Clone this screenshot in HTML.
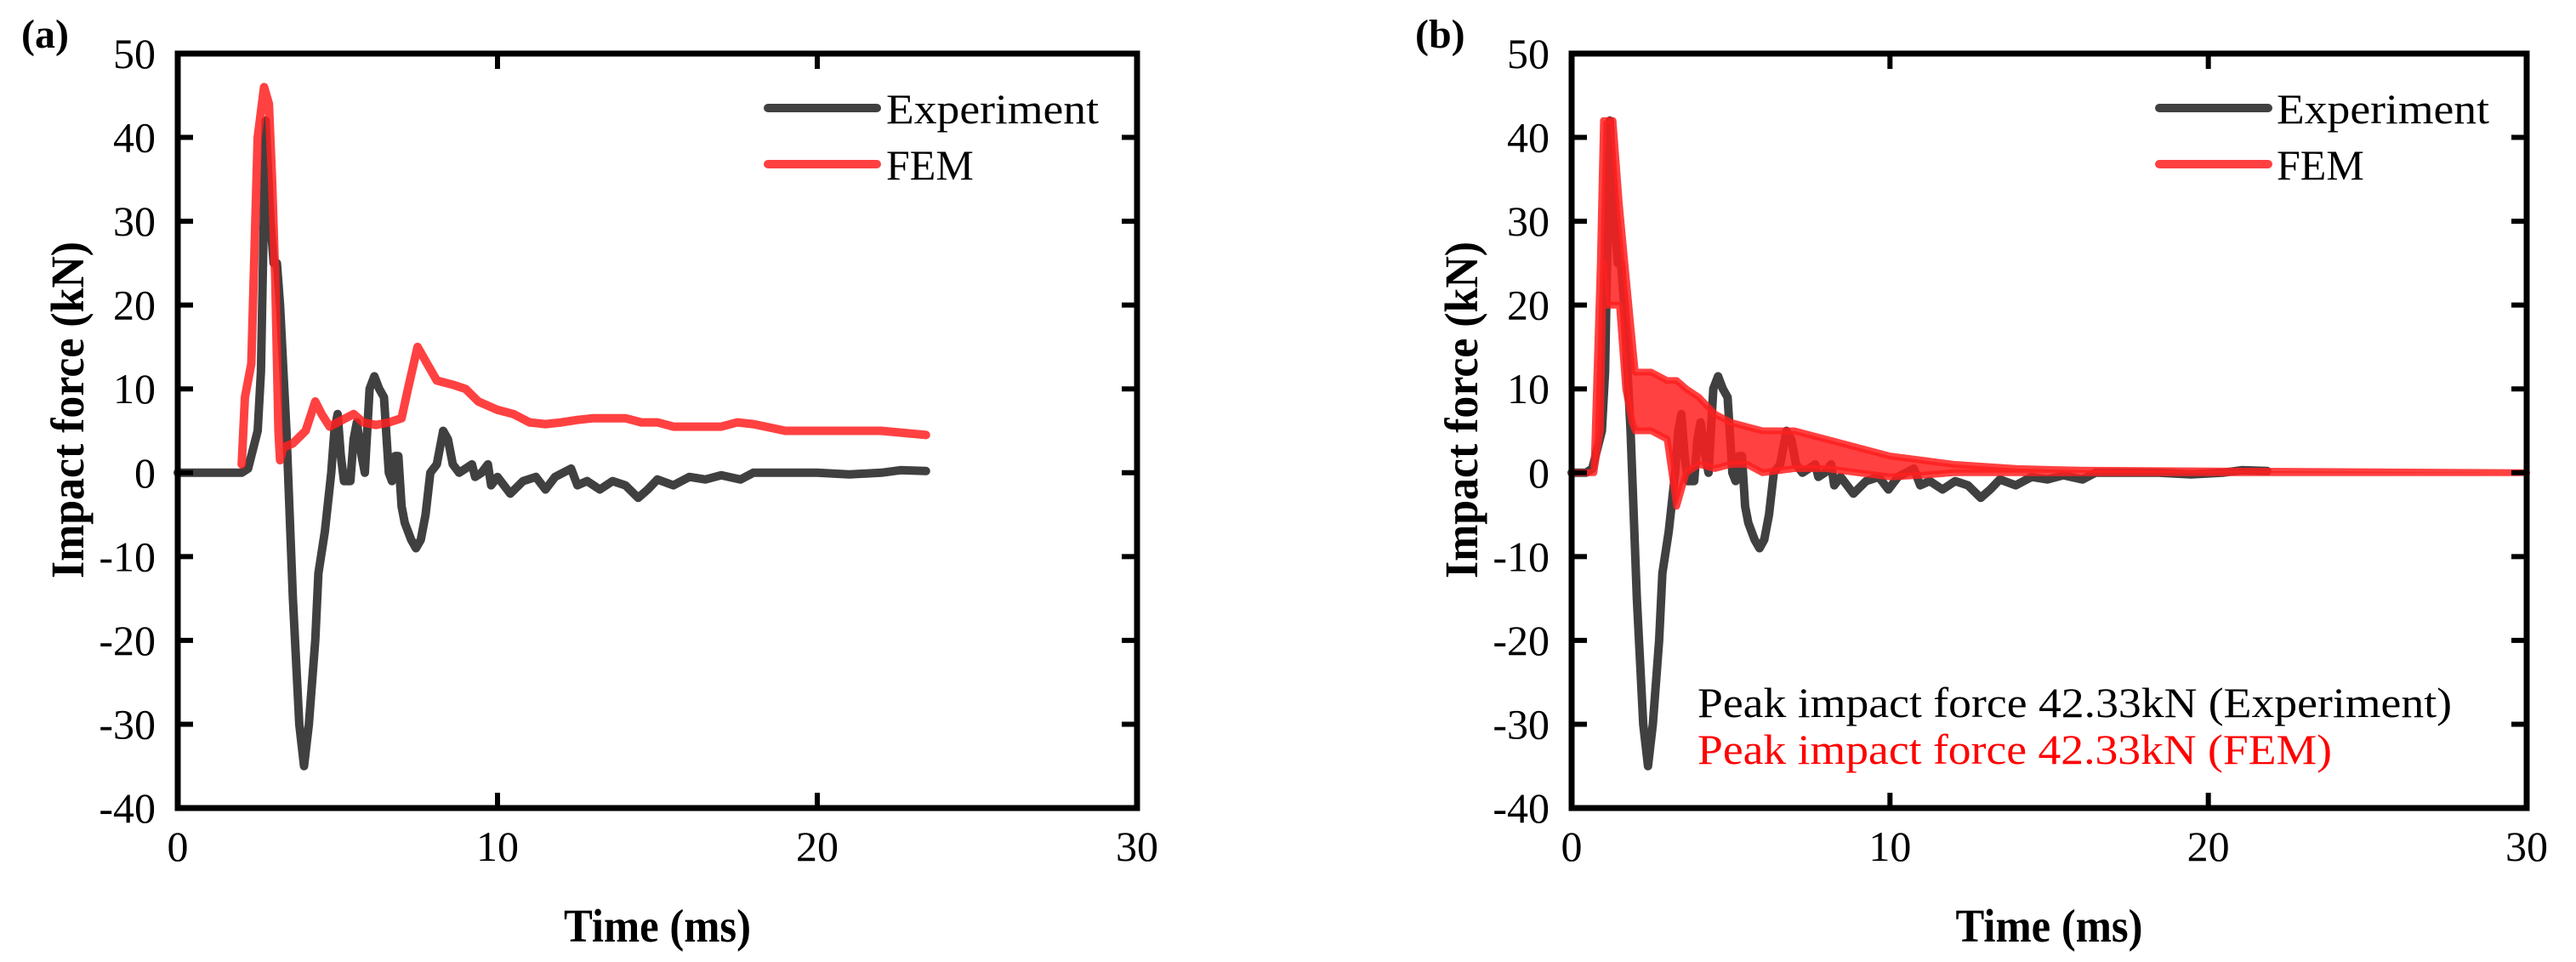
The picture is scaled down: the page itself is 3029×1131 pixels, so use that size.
<!DOCTYPE html>
<html><head><meta charset="utf-8"><style>
html,body{margin:0;padding:0;background:#fff;}
svg{display:block;font-family:"Liberation Serif","Times New Roman",serif;}
</style></head><body>
<svg id="chart" width="3029" height="1131" viewBox="0 0 3029 1131" xmlns="http://www.w3.org/2000/svg">
<rect width="3029" height="1131" fill="#fff"/>
<g id="panelA"></g>
<g id="panelB"></g>
</svg>
<script>
const xTicks = [0, 10, 20, 30];
const yTicks = [50, 40, 30, 20, 10, 0, -10, -20, -30, -40];

const aExpT = [0,2.0,2.2,2.5,2.6,2.75,2.9,3.0,3.1,3.2,3.4,3.6,3.8,3.95,4.1,4.3,4.4,4.6,4.8,4.9,5.0,5.1,5.2,5.4,5.5,5.6,5.75,5.85,6.0,6.15,6.3,6.45,6.6,6.7,6.8,6.9,7.0,7.1,7.3,7.45,7.6,7.75,7.9,8.1,8.3,8.45,8.6,8.8,9.0,9.2,9.3,9.5,9.7,9.8,10,10.4,10.8,11.2,11.5,11.8,12.3,12.5,12.8,13.2,13.6,14,14.4,14.7,15.0,15.5,16,16.5,17,17.6,18,19,20,21,22,22.6,23.4];
const aExpV = [0,0,0.5,5,12,42,30,25,25,20,5,-15,-30,-35,-30,-20,-12,-7,0,5,7,2,-1,-1,4,6,2,0,10,11.5,10,9,0,-1,2,2,-4,-6,-8,-9,-8,-5,0,1,5,4,1,0,0.5,1,-0.5,0,1,-1.5,-0.5,-2.5,-1,-0.5,-2,-0.5,0.5,-1.5,-1,-2,-1,-1.5,-3,-2,-0.8,-1.5,-0.5,-0.8,-0.3,-0.8,0,0,0,-0.2,0,0.3,0.2];
const aFemT = [2.0,2.1,2.3,2.5,2.7,2.85,2.95,3.05,3.15,3.2,3.3,3.6,4.0,4.3,4.5,4.75,5.0,5.5,5.8,6.2,6.6,7.0,7.2,7.5,7.8,8.1,8.6,9.0,9.4,10,10.5,11,11.5,12,12.5,13,14,14.5,15,15.5,16,17,17.5,18,19,20,21,22,23.4];
const aFemV = [1,9,13,40,46,44,35,23,5,1.5,3,3.5,5,8.5,7,5.5,6,7,6,5.7,6,6.5,10,15,13,11,10.5,10,8.5,7.5,7,6,5.8,6,6.3,6.5,6.5,6,6,5.5,5.5,5.5,6,5.8,5,5,5,5,4.5];

const bExpT = [0,0.45,0.65,0.95,1.05,1.2,1.35,1.45,1.55,1.65,1.85,2.05,2.25,2.4,2.55,2.75,2.85,3.05,3.25,3.35,3.45,3.55,3.65,3.85,3.95,4.05,4.2,4.3,4.45,4.6,4.75,4.9,5.05,5.15,5.25,5.35,5.45,5.55,5.75,5.9,6.05,6.2,6.35,6.55,6.75,6.9,7.05,7.25,7.45,7.65,7.75,7.95,8.15,8.25,8.45,8.85,9.25,9.65,9.95,10.25,10.75,10.95,11.25,11.65,12.05,12.45,12.85,13.15,13.45,13.95,14.45,14.95,15.45,16.05,16.45,17.45,18.45,19.45,20.45,21.05,21.85];
const bExpV = [0,0,0.5,5,12,42,30,25,25,20,5,-15,-30,-35,-30,-20,-12,-7,0,5,7,2,-1,-1,4,6,2,0,10,11.5,10,9,0,-1,2,2,-4,-6,-8,-9,-8,-5,0,1,5,4,1,0,0.5,1,-0.5,0,1,-1.5,-0.5,-2.5,-1,-0.5,-2,-0.5,0.5,-1.5,-1,-2,-1,-1.5,-3,-2,-0.8,-1.5,-0.5,-0.8,-0.3,-0.8,0,0,0,-0.2,0,0.3,0.2];
const bFemT = [0,0.7,0.9,1.0,1.1,1.3,1.5,1.7,1.9,2.0,2.5,3.0,3.3,3.6,4.0,4.5,5.0,5.5,6.0,7.0,8.0,9.0,10,11,12,14,16,30];
const bFemUpper = [0,0,25,42,42,42,32,24,16,12,12,11,11,10,9,7,6,5.5,5,5,4,3,2,1.5,1,0.5,0.3,0];
const bFemLower = [0,0,5,25,20,20,20,10,6,5,5,4,-4,0,1,0.5,1,1,0,0.5,0.5,0,-0.5,-0.3,0,0,0,0];

const NS = 'http://www.w3.org/2000/svg';
function mk(parent, tag, attrs, text){
  const e = document.createElementNS(NS, tag);
  for (const k in attrs) e.setAttribute(k, attrs[k]);
  if (text !== undefined) e.textContent = text;
  parent.appendChild(e);
  return e;
}

function drawPanel(g, L, R, letter, legendX, legendTextX){
  const T = 63, B = 950;
  const xs = v => L + (v - 0) / 30 * (R - L);
  const ys = v => T + (50 - v) / 90 * (B - T);
  return {xs, ys, T, B, L, R, axes: function(){
    const frame = mk(g, 'rect', {x:L, y:T, width:R-L, height:B-T, fill:'none', stroke:'#000', 'stroke-width':7});
    
    
    xTicks.forEach(t => {
      const x = xs(t);
      const tk = mk(g, 'path', {d:`M${x},${B} v-18 M${x},${T} v18`, stroke:'#000', 'stroke-width':6});
      
      
      const lb = mk(g, 'text', {x:x, y:1012, 'font-size':50, 'text-anchor':'middle'}, String(t));
      
      
    });
    yTicks.forEach(t => {
      const y = ys(t);
      const tk = mk(g, 'path', {d:`M${L},${y} h18 M${R},${y} h-18`, stroke:'#000', 'stroke-width':6});
      
      
      const lb = mk(g, 'text', {x:L-26, y:y+17, 'font-size':50, 'text-anchor':'end'}, String(t));
      
      
    });
    const xt = mk(g, 'text', {x:(L+R)/2, y:1107, 'font-size':55, 'font-weight':'bold', 'text-anchor':'middle', textLength:220, lengthAdjust:'spacingAndGlyphs'}, 'Time (ms)');
    
    
    const yx = L - 129;
    const yt = mk(g, 'text', {x:yx, y:482, 'font-size':55, 'font-weight':'bold', 'text-anchor':'middle', transform:`rotate(-90 ${yx} 482)`, dy:18, textLength:396, lengthAdjust:'spacingAndGlyphs'}, 'Impact force (kN)');
    
    
    const pl = mk(g, 'text', {x:L-184, y:56, 'font-size':48, 'font-weight':'bold'}, letter);
    
    
    const l1 = mk(g, 'line', {x1:legendX, x2:legendX+128, y1:127, y2:127, stroke:'#404040', 'stroke-width':10, 'stroke-linecap':'round'});
    
    
    const t1 = mk(g, 'text', {x:legendTextX, y:145, 'font-size':50, textLength:250, lengthAdjust:'spacingAndGlyphs'}, 'Experiment');
    
    
    const l2 = mk(g, 'line', {x1:legendX, x2:legendX+128, y1:193, y2:193, stroke:'#ff4040', 'stroke-width':10, 'stroke-linecap':'round'});
    
    
    const t2 = mk(g, 'text', {x:legendTextX, y:211, 'font-size':50}, 'FEM');
    
    
  }};
}

function linePath(xs, ys, T, V){
  return T.map((t,i)=>(i?'L':'M')+xs(t).toFixed(1)+','+ys(V[i]).toFixed(1)).join(' ');
}

// Panel A
const gA = document.getElementById('panelA');
const pA = drawPanel(gA, 209, 1337, '(a)', 903, 1042);
const eA = mk(gA, 'path', {d:linePath(pA.xs, pA.ys, aExpT, aExpV), fill:'none', stroke:'#404040', 'stroke-width':10, 'stroke-linejoin':'round', 'stroke-linecap':'round'});


const fA = mk(gA, 'path', {d:linePath(pA.xs, pA.ys, aFemT, aFemV), fill:'none', stroke:'#ff2020', 'stroke-opacity':0.85, 'stroke-width':10, 'stroke-linejoin':'round', 'stroke-linecap':'round'});


pA.axes();

// Panel B
const gB = document.getElementById('panelB');
const pB = drawPanel(gB, 1848, 2971, '(b)', 2539, 2677);
const eB = mk(gB, 'path', {d:linePath(pB.xs, pB.ys, bExpT, bExpV), fill:'none', stroke:'#404040', 'stroke-width':10, 'stroke-linejoin':'round', 'stroke-linecap':'round'});


let bandD = bFemT.map((t,i)=>(i?'L':'M')+pB.xs(t).toFixed(1)+','+pB.ys(bFemUpper[i]).toFixed(1)).join(' ');
for (let i = bFemT.length-1; i >= 0; i--) bandD += ' L'+pB.xs(bFemT[i]).toFixed(1)+','+pB.ys(bFemLower[i]).toFixed(1);
bandD += ' Z';
const fB = mk(gB, 'path', {d:bandD, fill:'#ff2020', 'fill-opacity':0.85, stroke:'#ff2020', 'stroke-opacity':0.85, 'stroke-width':8, 'stroke-linejoin':'round'});


pB.axes();
const a1 = mk(gB, 'text', {x:1996, y:843, 'font-size':50, fill:'#000', textLength:887, lengthAdjust:'spacingAndGlyphs'}, 'Peak impact force 42.33kN (Experiment)');


const a2 = mk(gB, 'text', {x:1996, y:898, 'font-size':50, fill:'#ff0000', textLength:746, lengthAdjust:'spacingAndGlyphs'}, 'Peak impact force 42.33kN (FEM)');


</script>
</body></html>
